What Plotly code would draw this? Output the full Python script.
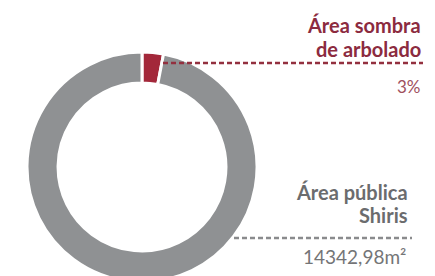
import plotly.graph_objects as go

labels = ["Área sombra de arbolado", "Área pública Shiris"]
values = [3, 97]
colors = ["#a3283a", "#8f9193"]

# The page body has an 8px margin; work in reference-pixel coordinates and shift.
OFF = 8
W, H = 427, 274

fig = go.Figure()
fig.add_trace(go.Pie(
    labels=labels, values=values, hole=0.73, sort=False,
    direction="clockwise", rotation=0,
    marker=dict(colors=colors, line=dict(color="white", width=3)),
    textinfo="none", hoverinfo="label+percent", showlegend=False,
    domain=dict(x=[19 / W, 249 / W], y=[0, 230 / H]),
))

def px(x):
    return (x - OFF) / W

def py(y):
    return 1 - (y - OFF) / H

font_b = "Lato, 'Open Sans', sans-serif"
ann = [
    dict(text="<b>Área sombra</b>", x=px(423), y=py(25), color="#8c2b3f", size=20),
    dict(text="<b>de arbolado</b>", x=px(423), y=py(49), color="#8c2b3f", size=20),
    dict(text="3%", x=px(423), y=py(86), color="#a0505e", size=17),
    dict(text="<b>Área pública</b>", x=px(410), y=py(192), color="#6b6c6e", size=20),
    dict(text="<b>Shiris</b>", x=px(410), y=py(215), color="#6b6c6e", size=20),
    dict(text="14342,98m²", x=px(408), y=py(257), color="#747577", size=19),
]
for a in ann:
    fig.add_annotation(text=a["text"], x=a["x"], y=a["y"], xref="paper", yref="paper",
                       xanchor="right", yanchor="middle", showarrow=False,
                       font=dict(family=font_b, size=a["size"], color=a["color"]))

fig.add_shape(type="line", xref="paper", yref="paper", x0=px(163), x1=px(423), y0=py(63), y1=py(63),
              line=dict(color="#93303f", width=2.5, dash="5px,3px"))
fig.add_shape(type="line", xref="paper", yref="paper", x0=px(234), x1=px(412), y0=py(238), y1=py(238),
              line=dict(color="#8a8b8d", width=2.5, dash="5px,3px"))

fig.update_layout(width=W, height=H, margin=dict(l=0, r=0, t=0, b=0),
                  paper_bgcolor="white", plot_bgcolor="white")
fig.write_html("out.html")
